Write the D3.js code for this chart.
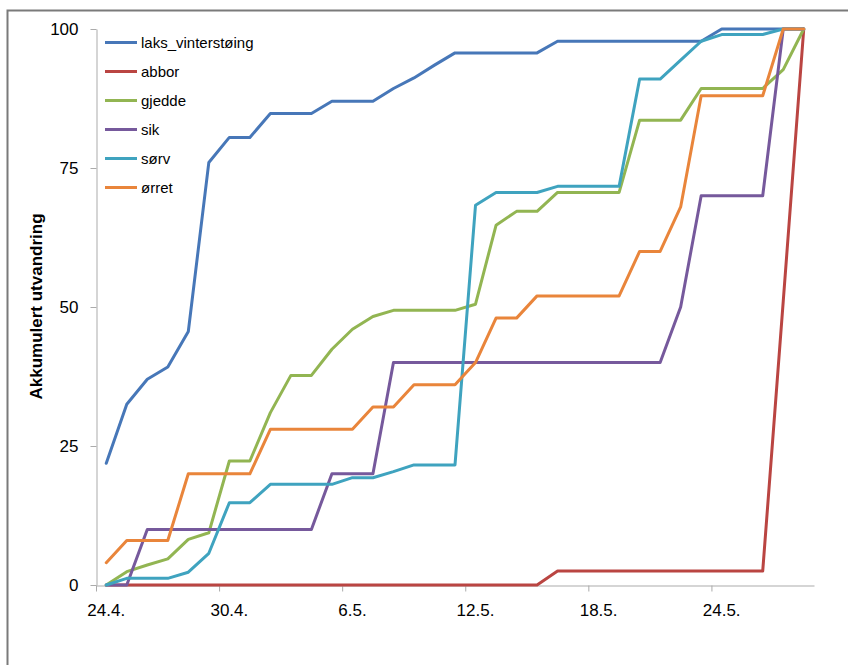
<!DOCTYPE html>
<html>
<head>
<meta charset="utf-8">
<script src="https://cdn.jsdelivr.net/npm/d3@7"></script>
<style>
  html, body { margin: 0; padding: 0; background: #fff; }
  svg { display: block; font-family: "Liberation Sans", Arial, sans-serif; }
</style>
</head>
<body>
<svg id="chart" width="848" height="665"></svg>
<script>
// Daily observation dates (24 April – 28 May)
const dates = [
  "24.4.", "25.4.", "26.4.", "27.4.", "28.4.", "29.4.", "30.4.",
  "1.5.", "2.5.", "3.5.", "4.5.", "5.5.", "6.5.", "7.5.", "8.5.", "9.5.",
  "10.5.", "11.5.", "12.5.", "13.5.", "14.5.", "15.5.", "16.5.", "17.5.",
  "18.5.", "19.5.", "20.5.", "21.5.", "22.5.", "23.5.", "24.5.", "25.5.",
  "26.5.", "27.5.", "28.5."
];

// Labelled dates on the x axis
const xTickLabels = ["24.4.", "30.4.", "6.5.", "12.5.", "18.5.", "24.5."];
const yTickValues = [0, 25, 50, 75, 100];

// Accumulated emigration (%) per species
const laksVinterstoing = [21.9, 32.5, 37, 39.2, 45.6, 76, 80.5, 80.5, 84.8, 84.8, 84.8, 87, 87, 87,
  89.3, 91.2, 93.5, 95.7, 95.7, 95.7, 95.7, 95.7, 97.8, 97.8, 97.8, 97.8, 97.8, 97.8, 97.8, 97.8,
  100, 100, 100, 100, 100];
const abbor = [0, 0, 0, 0, 0, 0, 0, 0, 0, 0, 0, 0, 0, 0, 0, 0, 0, 0, 0, 0, 0, 0,
  2.5, 2.5, 2.5, 2.5, 2.5, 2.5, 2.5, 2.5, 2.5, 2.5, 2.5, 51, 100];
const gjedde = [0, 2.4, 3.6, 4.7, 8.2, 9.4, 22.3, 22.3, 31, 37.7, 37.7, 42.4, 46, 48.3, 49.4, 49.4,
  49.4, 49.4, 50.5, 64.7, 67.2, 67.2, 70.6, 70.6, 70.6, 70.6, 83.6, 83.6, 83.6, 89.3, 89.3, 89.3,
  89.3, 92.7, 100];
const sik = [0, 0, 10, 10, 10, 10, 10, 10, 10, 10, 10, 20, 20, 20, 40, 40, 40, 40, 40, 40, 40, 40,
  40, 40, 40, 40, 40, 40, 50, 70, 70, 70, 70, 100, 100];
const sorv = [0, 1.2, 1.2, 1.2, 2.3, 5.7, 14.8, 14.8, 18.1, 18.1, 18.1, 18.1, 19.3, 19.3, 20.4, 21.6,
  21.6, 21.6, 68.3, 70.6, 70.6, 70.6, 71.7, 71.7, 71.7, 71.7, 91, 91, 94.4, 97.8, 99, 99, 99, 100, 100];
const orret = [4, 8, 8, 8, 20, 20, 20, 20, 28, 28, 28, 28, 28, 32, 32, 36, 36, 36, 40, 48, 48, 52,
  52, 52, 52, 52, 60, 60, 68, 88, 88, 88, 88, 100, 100];

const seriesNames = ["laks_vinterstøing", "abbor", "gjedde", "sik", "sørv", "ørret"];
const seriesValues = [laksVinterstoing, abbor, gjedde, sik, sorv, orret];
const seriesColors = ["#4777B8", "#BA4542", "#92B552", "#76599C", "#3FA3BF", "#E9853B"];

const svg = d3.select("#chart");

// Outer chart frame
svg.append("rect")
  .attr("x", 7.5).attr("y", 10.5)
  .attr("width", 880).attr("height", 700)
  .attr("fill", "none")
  .attr("stroke", "#7a7a7a")
  .attr("stroke-width", 2);

const plot = { left: 96, right: 814, top: 29, bottom: 585 };

const x = d3.scaleBand()
  .domain(dates)
  .range([plot.left, plot.right])
  .padding(0);

const y = d3.scaleLinear()
  .domain([0, 100])
  .range([plot.bottom, plot.top]);

const axisColor = "#ababab";

// Y axis
const yAxis = svg.append("g")
  .attr("transform", `translate(${plot.left + 0.5},0)`)
  .call(d3.axisLeft(y).tickValues(yTickValues).tickSize(6).tickSizeOuter(0).tickPadding(12));
yAxis.select(".domain").attr("stroke", axisColor);
yAxis.selectAll(".tick line").attr("stroke", axisColor);
yAxis.selectAll(".tick text")
  .attr("fill", "#000")
  .style("font-size", "17px")
  .style("font-family", "'Liberation Sans', Arial, sans-serif");

// X axis: ticks sit on category boundaries, labels under the category centres
const half = x.bandwidth() / 2;
const xAxis = svg.append("g")
  .attr("transform", `translate(0,${plot.bottom + 0.5})`)
  .call(d3.axisBottom(x).tickValues(xTickLabels).tickSize(6).tickSizeOuter(0).tickPadding(12.5));
xAxis.select(".domain").attr("stroke", axisColor);
xAxis.selectAll(".tick line")
  .attr("stroke", axisColor)
  .attr("x1", -half + 0.5).attr("x2", -half + 0.5);
xAxis.selectAll(".tick text")
  .attr("fill", "#000")
  .style("font-size", "17px")
  .style("font-family", "'Liberation Sans', Arial, sans-serif");

// Y axis title
svg.append("text")
  .attr("transform", "translate(41.5,306.5) rotate(-90)")
  .attr("text-anchor", "middle")
  .style("font-size", "17px")
  .style("font-weight", "bold")
  .attr("fill", "#000")
  .text("Akkumulert utvandring");

// Series lines
const line = d3.line()
  .x((d, i) => x(dates[i]) + half)
  .y(d => y(d));

svg.append("g").selectAll("path")
  .data(seriesValues)
  .join("path")
  .attr("d", d => line(d))
  .attr("fill", "none")
  .attr("stroke", (d, i) => seriesColors[i])
  .attr("stroke-width", 3)
  .attr("stroke-linejoin", "round")
  .attr("stroke-linecap", "round");

// Legend
const legend = svg.append("g");
seriesNames.forEach((name, i) => {
  const ly = 42.5 + i * 29;
  legend.append("line")
    .attr("x1", 105).attr("x2", 137)
    .attr("y1", ly).attr("y2", ly)
    .attr("stroke", seriesColors[i])
    .attr("stroke-width", 3);
  legend.append("text")
    .attr("x", 141).attr("y", ly + 5)
    .style("font-size", "15px")
    .attr("fill", "#000")
    .text(name);
});
</script>
</body>
</html>
